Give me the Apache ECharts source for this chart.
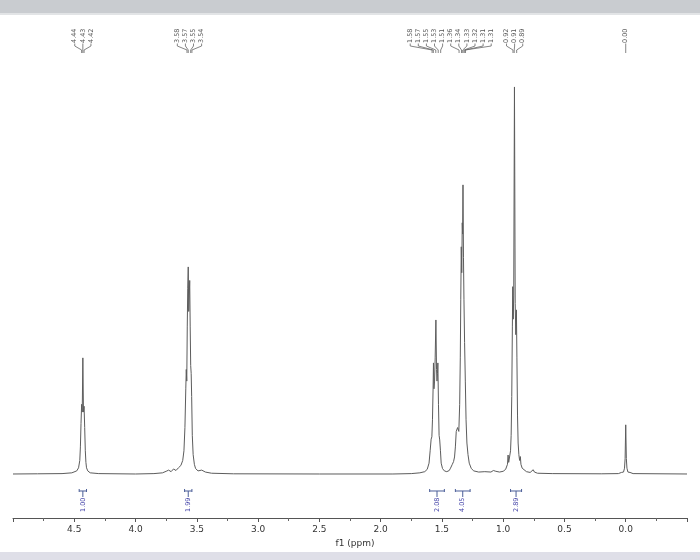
<!DOCTYPE html>
<html>
<head>
<meta charset="utf-8">
<script src="https://cdn.jsdelivr.net/npm/echarts@6/dist/echarts.min.js"></script>
<style>
html,body{margin:0;padding:0;background:#fff;}
#chart{width:700px;height:560px;}
</style>
</head>
<body>
<div id="chart"></div>
<script>
// ---- Spectrum trace (chemical shift in ppm, relative intensity) ----
const spectrumPpm = [
  5.00, 4.80, 4.60, 4.52, 4.48, 4.465, 4.455, 4.45, 4.445, 4.44, 4.435, 4.43, 4.425, 4.42, 4.415, 4.41, 4.405, 4.40, 4.39, 4.37, 4.30,
  4.00, 3.85, 3.78, 3.75, 3.73, 3.71, 3.69, 3.67, 3.65, 3.63, 3.615, 3.605, 3.597, 3.59, 3.586, 3.582, 3.578, 3.574, 3.57, 3.566, 3.562,
  3.558, 3.554, 3.55, 3.546, 3.542, 3.537, 3.53, 3.52, 3.51, 3.49, 3.46, 3.43, 3.38, 3.20,
  2.50, 1.90, 1.75, 1.68, 1.64, 1.62, 1.605, 1.596, 1.588, 1.582, 1.577, 1.572, 1.569, 1.565, 1.56, 1.555, 1.549, 1.544, 1.54, 1.536,
  1.533, 1.528, 1.523, 1.518, 1.512, 1.506, 1.495, 1.48, 1.46, 1.44, 1.43, 1.415, 1.405, 1.397, 1.39, 1.383, 1.372, 1.362, 1.355, 1.35,
  1.346, 1.342, 1.338, 1.334, 1.331, 1.328, 1.324, 1.32, 1.315, 1.309, 1.303, 1.296, 1.287, 1.277, 1.26, 1.24, 1.20, 1.15, 1.10, 1.08,
  1.06, 1.03, 1.00, 0.98, 0.965, 0.96, 0.955, 0.948, 0.94, 0.935, 0.93, 0.925, 0.922, 0.918, 0.914, 0.908, 0.902, 0.897, 0.892, 0.888,
  0.883, 0.878, 0.872, 0.866, 0.86, 0.855, 0.845, 0.83, 0.81, 0.78, 0.765, 0.755, 0.745, 0.72, 0.60, 0.20,
  0.06, 0.035, 0.025, 0.018, 0.01, 0.005, 0.0, -0.005, -0.01, -0.018, -0.025, -0.035, -0.06, -0.50
];
const spectrumIntensity = [
  0.0, 0.05, 0.1, 0.3, 0.8, 1.6, 3.5, 7, 13, 18, 16, 30, 16, 17.5, 12, 6, 3, 1.6, 0.8, 0.3, 0.1,
  0.0, 0.1, 0.3, 0.7, 1.0, 0.6, 1.3, 0.9, 1.6, 2.2, 3.5, 6, 12, 22, 27, 24, 38, 48, 53.5, 42, 46,
  50, 38, 28, 26, 20, 10, 5, 2.5, 1.4, 0.8, 1.0, 0.5, 0.2, 0.05,
  0.0, 0.0, 0.1, 0.3, 0.6, 1.2, 2.8, 6, 9, 9.6, 14, 22, 28.7, 22, 24, 30, 39.8, 27, 24, 26,
  28.7, 18, 10, 8.8, 6, 2.8, 1.4, 0.8, 0.6, 0.9, 1.5, 2.5, 3.2, 4.4, 7, 11, 12, 11, 18, 30,
  45, 58.7, 52, 64.9, 62, 74.7, 56, 45, 34, 24, 14, 8, 5, 2.8, 1.4, 0.8, 0.5, 0.6, 0.5, 0.9,
  0.7, 0.5, 0.7, 1.2, 2.5, 4.9, 3, 3.5, 6, 10, 20, 38, 48.4, 40, 46, 100, 44, 36, 42.4, 30,
  15, 8, 5, 3.5, 4.5, 2.5, 1.5, 1.0, 0.6, 0.4, 0.9, 1.1, 0.5, 0.2, 0.1, 0.05,
  0.1, 0.4, 0.9, 0.5, 1.5, 4, 12.7, 4, 1.5, 0.5, 0.9, 0.4, 0.1, 0.0
];

// ---- Peak picking labels ----
const peakLabels = ['4.44','4.43','4.42','3.58','3.57','3.55','3.54',
  '1.58','1.57','1.55','1.53','1.51','1.36','1.34','1.33','1.32','1.31','1.31',
  '0.92','0.91','0.89','0.00'];

// ---- Integrals ----
const integralFrom = [4.46, 3.60, 1.60, 1.39, 0.94];
const integralTo = [4.40, 3.54, 1.48, 1.27, 0.85];
const integralValues = ['1.00', '1.99', '2.08', '4.05', '2.89'];

// ---- Axis ----
const axisMin = -0.5, axisMax = 5.0, axisStep = 0.5;

const FONT = 'DejaVu Sans';
const spectrumData = spectrumPpm.map((p, i) => [p, spectrumIntensity[i]]);

// cluster peak labels (consecutive labels closer than 0.3 ppm)
const peakPpm = peakLabels.map(Number);
const clusterOf = [];
const clusters = [];
peakPpm.forEach((p, i) => {
  if (i === 0 || peakPpm[i - 1] - p > 0.3) clusters.push([]);
  const c = clusters[clusters.length - 1];
  clusterOf.push({ c: clusters.length - 1, k: c.length });
  c.push(i);
});

const chart = echarts.init(document.getElementById('chart'));
chart.setOption({
  animation: false,
  backgroundColor: '#ffffff',
  graphic: [
    { type: 'rect', shape: { x: 0, y: 0, width: 700, height: 13 }, style: { fill: '#c9ccd0' }, silent: true },
    { type: 'rect', shape: { x: 0, y: 13, width: 700, height: 2 }, style: { fill: '#e2e4e6' }, silent: true },
    { type: 'rect', shape: { x: 0, y: 552, width: 700, height: 8 }, style: { fill: '#dfdfe8' }, silent: true }
  ],
  grid: { left: 13, right: 13, top: 20, bottom: 42 },
  xAxis: {
    type: 'value',
    inverse: true,
    min: axisMin, max: axisMax, interval: axisStep,
    name: 'f1 (ppm)',
    nameLocation: 'middle',
    nameGap: 16,
    nameTextStyle: { fontFamily: FONT, fontSize: 9, color: '#333', padding: [0, 0, 0, 10] },
    axisLine: { onZero: false, lineStyle: { color: '#555', width: 1 } },
    axisTick: { show: true, length: 4, lineStyle: { color: '#555' } },
    minorTick: { show: true, splitNumber: 2, length: 3, lineStyle: { color: '#666' } },
    axisLabel: {
      fontFamily: FONT, fontSize: 9, color: '#333', margin: 7,
      showMinLabel: false, showMaxLabel: false,
      formatter: v => v.toFixed(1)
    },
    splitLine: { show: false }
  },
  yAxis: { type: 'value', min: -11.37, max: 117.3, show: false },
  series: [
    {
      type: 'line',
      data: spectrumData,
      symbol: 'none',
      lineStyle: { color: '#5c5c5c', width: 1 },
      z: 3
    },
    {
      type: 'custom',
      coordinateSystem: 'cartesian2d',
      data: peakLabels.map((s, i) => [peakPpm[i], 0, i]),
      renderItem: function (params, api) {
        const i = api.value(2);
        const info = clusterOf[i];
        const members = clusters[info.c];
        let mean = 0;
        members.forEach(j => { mean += api.coord([peakPpm[j], 0])[0]; });
        mean /= members.length;
        const lx = mean + (info.k - (members.length - 1) / 2) * 8.1;
        const px = api.coord([peakPpm[i], 0])[0];
        return {
          type: 'group',
          children: [
            { type: 'text', x: lx, y: 43, rotation: Math.PI / 2,
              style: { text: peakLabels[i], fontFamily: FONT, fontSize: 6.5, fill: '#555', align: 'left', verticalAlign: 'middle' } },
            { type: 'polyline', shape: { points: [[lx, 43.5], [lx, 46], [px, 50], [px, 53]] },
              style: { stroke: '#666', lineWidth: 0.8, fill: null } }
          ]
        };
      },
      z: 4
    },
    {
      type: 'custom',
      coordinateSystem: 'cartesian2d',
      data: integralValues.map((v, i) => [integralFrom[i], integralTo[i], i]),
      renderItem: function (params, api) {
        const i = api.value(2);
        const a = api.coord([integralFrom[i], 0]);
        const b = api.coord([integralTo[i], 0]);
        const y0 = a[1];
        const m = (a[0] + b[0]) / 2;
        const yb = y0 + 17;
        const c = '#4b5e98';
        return {
          type: 'group',
          children: [
            { type: 'line', shape: { x1: a[0], y1: yb, x2: b[0], y2: yb }, style: { stroke: c, lineWidth: 1 } },
            { type: 'line', shape: { x1: a[0], y1: yb - 2, x2: a[0], y2: yb + 1 }, style: { stroke: c, lineWidth: 1 } },
            { type: 'line', shape: { x1: b[0], y1: yb - 2, x2: b[0], y2: yb + 1 }, style: { stroke: c, lineWidth: 1 } },
            { type: 'line', shape: { x1: m, y1: yb, x2: m, y2: yb + 6 }, style: { stroke: c, lineWidth: 1 } },
            { type: 'text', x: m, y: yb + 21, rotation: Math.PI / 2,
              style: { text: integralValues[i], fontFamily: FONT, fontSize: 6.5, fill: '#3f3fa6', align: 'left', verticalAlign: 'middle' } }
          ]
        };
      },
      z: 4
    }
  ]
});
</script>
</body>
</html>
